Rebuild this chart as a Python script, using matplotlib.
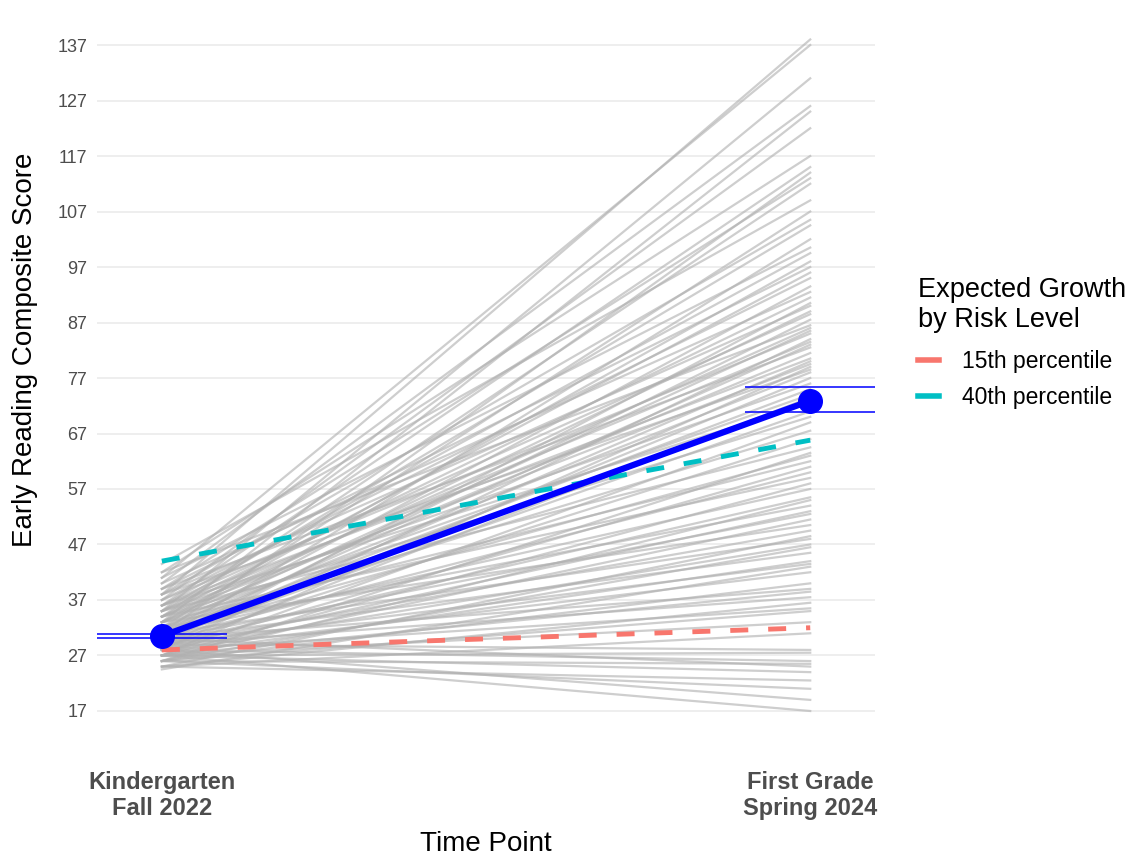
import matplotlib.pyplot as plt
from matplotlib.lines import Line2D

plt.rcParams['font.family'] = ['Liberation Sans', 'DejaVu Sans']

# time points on the x axis
time_labels = ['Kindergarten\nFall 2022', 'First Grade\nSpring 2024']

# individual student scores (fall K -> spring 1st grade)
start_scores = [38, 41, 35, 40, 33, 37, 42, 36, 31, 39, 34, 43.5, 32, 38, 35, 30, 41, 36, 33, 39,
                34, 37, 31, 40, 35, 29, 38, 33, 36, 30, 42, 34, 32, 37, 28, 35, 31, 39, 33, 36,
                30, 34, 27, 38, 32, 29, 35, 31, 33, 28, 36, 30, 34, 27, 32, 29, 35, 26, 31, 33,
                28, 30, 34, 27, 31, 29, 26, 32, 28, 30, 27, 33, 29, 25, 31, 28, 26, 30, 27, 29,
                24.5, 28, 26, 30, 27, 29, 25, 28, 26, 27, 25, 29, 27, 28, 26, 30, 27, 25, 26, 28, 27]
end_scores = [138, 137, 131, 126, 125, 122, 117, 115, 114, 113, 112, 109, 107, 105.5, 104.5, 102, 100.5, 99.5, 98, 97,
              96, 95, 93.5, 92.5, 91.5, 90.5, 90, 89, 88.5, 87.5, 86.5, 86, 85.5, 85, 84, 83.5, 83, 82.5, 81.5, 80.5,
              80, 79.5, 79, 78.5, 78, 77, 76, 75, 74, 73.5, 72.5, 71, 70, 69, 67.5, 66, 64.5, 63.5, 63, 62,
              61, 60, 59, 58, 57, 55.5, 55, 54, 53, 52.5, 51.5, 50.5, 49.5, 48.5, 48, 47, 46.5, 45.5, 44, 43.5,
              43, 42, 40, 39, 38.5, 37.5, 36.5, 35.5, 35, 33, 31, 28, 27.5, 26, 25.5, 25, 24, 22.5, 21, 19, 17]

# group mean with interval
mean_scores = [30.5, 72.9]
ci_low = [30.2, 70.9]
ci_high = [30.9, 75.4]

# expected growth lines
p15_scores = [28.0, 32.0]
p40_scores = [44.0, 65.8]

y_ticks = list(range(17, 138, 10))

fig = plt.figure(figsize=(11.4, 8.56), dpi=100)
ax = fig.add_axes([0.0851, 0.1305, 0.6825, 0.8623])

x = [1, 2]
for s, e in zip(start_scores, end_scores):
    ax.plot(x, [s, e], color='#b0b0b0', lw=1.6, alpha=0.62, zorder=2)

ax.plot(x, p15_scores, color='#F8766D', lw=3.5, linestyle=(0, (3.7, 4.1)), zorder=3)
ax.plot(x, p40_scores, color='#00BFC4', lw=3.5, linestyle=(0, (3.7, 4.1)), zorder=3)

xmin = [xi - 0.1 for xi in x]
xmax = [xi + 0.1 for xi in x]
ax.hlines(ci_low, xmin, xmax, color='blue', lw=1.1, zorder=4, clip_on=False)
ax.hlines(ci_high, xmin, xmax, color='blue', lw=1.1, zorder=4, clip_on=False)
ax.plot(x, mean_scores, color='blue', lw=4.5, marker='o', ms=17, zorder=5)

ax.set_xlim(0.9, 2.1)
ax.set_ylim(11, 144)
ax.set_yticks(y_ticks)
ax.set_xticks(x, time_labels)
for lab in ax.get_xticklabels():
    lab.set_fontweight('bold')
ax.tick_params(axis='x', length=0, pad=19, labelsize=17, labelcolor='#4d4d4d')
ax.tick_params(axis='y', length=0, pad=7, labelsize=13, labelcolor='#4d4d4d')
ax.yaxis.grid(True, color='#ebebeb', lw=1.2)
ax.set_axisbelow(True)
for sp in ax.spines.values():
    sp.set_visible(False)

ax.set_xlabel('Time Point', fontsize=20)
ax.xaxis.set_label_coords(0.5, -0.118)
ax.set_ylabel('Early Reading Composite Score', fontsize=20)
ax.yaxis.set_label_coords(-0.076, 0.534)

handles = [Line2D([], [], color='#F8766D', lw=4),
           Line2D([], [], color='#00BFC4', lw=4)]
leg = fig.legend(handles, ['15th percentile', '40th percentile'],
                 title='Expected Growth\nby Risk Level', title_fontsize=19.5, fontsize=16.5,
                 loc='upper left', bbox_to_anchor=(907 / 1140, 1 - 266 / 856),
                 frameon=False, borderpad=0, handlelength=0.9, handletextpad=1.0,
                 labelspacing=0.55, alignment='left')
leg._legend_box.sep = 12

fig.savefig('out.png', dpi=100)
